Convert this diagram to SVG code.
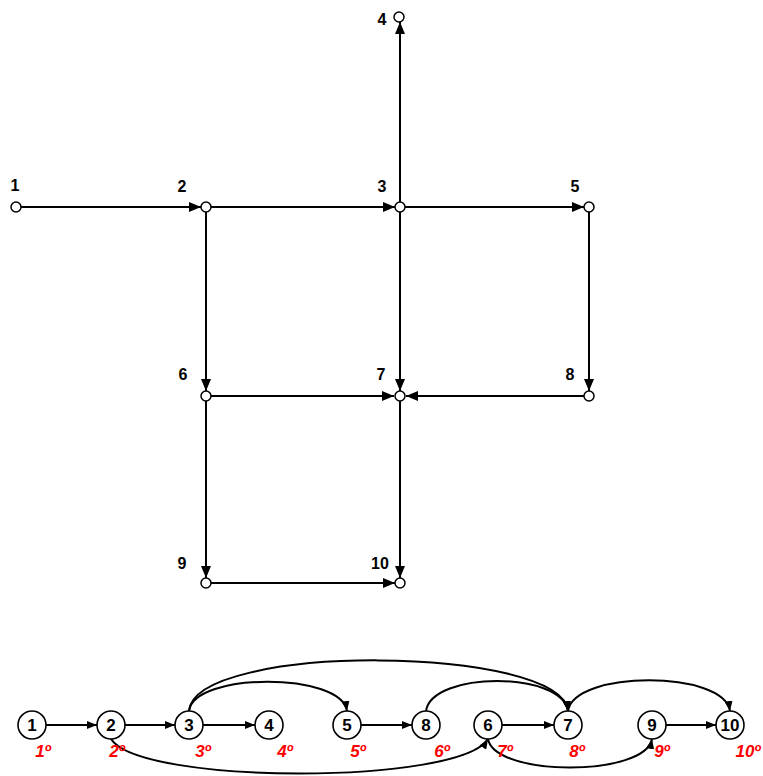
<svg xmlns="http://www.w3.org/2000/svg" width="763" height="776" viewBox="0 0 763 776">
  <style>
    .edge { fill: none; stroke: #000; stroke-width: 2; }
    .pt { fill: #fff; stroke: #000; stroke-width: 1.5; }
    .nd { fill: #fff; stroke: #000; stroke-width: 1.6; }
    .lbl { font-family: "Liberation Sans", Arial, sans-serif; font-size: 16px; font-weight: bold; fill: #000; text-anchor: middle; }
    .num { font-family: "Liberation Sans", Arial, sans-serif; font-size: 17px; font-weight: bold; fill: #000; text-anchor: middle; }
    .ord { font-family: "Liberation Sans", Arial, sans-serif; font-size: 17px; font-weight: bold; font-style: italic; fill: #ff0000; text-anchor: middle; }
  </style>
  <defs>
    <marker id="arrowBig" viewBox="0 0 12 10" refX="12" refY="5" markerWidth="12" markerHeight="10" markerUnits="userSpaceOnUse" orient="auto">
      <path d="M0,0 L12,5 L0,10 Z" fill="#000"/>
    </marker>
    <marker id="arrowSmall" viewBox="0 0 10 8" refX="10" refY="4" markerWidth="10" markerHeight="8" markerUnits="userSpaceOnUse" orient="auto">
      <path d="M0,0 L10,4 L0,8 Z" fill="#000"/>
    </marker>
  </defs>

  <!-- Network: connectors -->
  <g id="net-edges" class="edge" marker-end="url(#arrowBig)">
    <line x1="21" y1="207" x2="201" y2="207"/>
    <line x1="211" y1="207" x2="395" y2="207"/>
    <line x1="400" y1="202" x2="400" y2="22"/>
    <line x1="405" y1="207" x2="584" y2="207"/>
    <line x1="206" y1="212" x2="206" y2="391"/>
    <line x1="400" y1="212" x2="400" y2="391"/>
    <line x1="589" y1="212" x2="589" y2="391"/>
    <line x1="211" y1="396" x2="394" y2="396"/>
    <line x1="584" y1="396" x2="406" y2="396"/>
    <line x1="206" y1="401" x2="206" y2="578"/>
    <line x1="400" y1="401" x2="400" y2="578"/>
    <line x1="211" y1="583" x2="395" y2="583"/>
  </g>

  <!-- Network: nodes -->
  <g id="n1"><circle class="pt" cx="16" cy="207" r="5"/><text class="lbl" x="15" y="191">1</text></g>
  <g id="n2"><circle class="pt" cx="206" cy="207" r="5"/><text class="lbl" x="182" y="192">2</text></g>
  <g id="n3"><circle class="pt" cx="400" cy="207" r="5"/><text class="lbl" x="382" y="192">3</text></g>
  <g id="n4"><circle class="pt" cx="399" cy="17" r="5"/><text class="lbl" x="382" y="25">4</text></g>
  <g id="n5"><circle class="pt" cx="589" cy="207" r="5"/><text class="lbl" x="575" y="192">5</text></g>
  <g id="n6"><circle class="pt" cx="206" cy="396" r="5"/><text class="lbl" x="183" y="380">6</text></g>
  <g id="n7"><circle class="pt" cx="400" cy="396" r="5"/><text class="lbl" x="381" y="380">7</text></g>
  <g id="n8"><circle class="pt" cx="589" cy="396" r="5"/><text class="lbl" x="570" y="380">8</text></g>
  <g id="n9"><circle class="pt" cx="206" cy="583" r="5"/><text class="lbl" x="182" y="569">9</text></g>
  <g id="n10"><circle class="pt" cx="400" cy="583" r="5"/><text class="lbl" x="380" y="569">10</text></g>

  <!-- Ordering: connectors -->
  <g id="order-edges" class="edge" marker-end="url(#arrowSmall)">
    <line x1="46" y1="725" x2="97" y2="725"/>
    <line x1="125" y1="725" x2="175" y2="725"/>
    <line x1="203" y1="725" x2="255" y2="725"/>
    <line x1="361" y1="725" x2="412" y2="725"/>
    <line x1="502" y1="725" x2="554" y2="725"/>
    <line x1="666" y1="725" x2="716" y2="725"/>
    <path d="M189,711 C194,672 341,672 347,711"/>
    <path d="M189,711 C195,642 562,645 568,711"/>
    <path d="M426,711 C432,671 562,671 568,711"/>
    <path d="M568,711 C574,670 724,670 730,711"/>
    <path d="M111,739 C140,785 460,785 488,739"/>
    <path d="M488,739 C495,777 645,777 652,739"/>
  </g>

  <!-- Ordering: nodes -->
  <g id="o1"><circle class="nd" cx="32" cy="725" r="14"/><text class="num" x="32" y="731">1</text><text class="ord" x="43" y="757">1º</text></g>
  <g id="o2"><circle class="nd" cx="111" cy="725" r="14"/><text class="num" x="111" y="731">2</text><text class="ord" x="117" y="757">2º</text></g>
  <g id="o3"><circle class="nd" cx="189" cy="725" r="14"/><text class="num" x="189" y="731">3</text><text class="ord" x="203" y="757">3º</text></g>
  <g id="o4"><circle class="nd" cx="269" cy="725" r="14"/><text class="num" x="269" y="731">4</text><text class="ord" x="285" y="757">4º</text></g>
  <g id="o5"><circle class="nd" cx="347" cy="725" r="14"/><text class="num" x="347" y="731">5</text><text class="ord" x="358" y="757">5º</text></g>
  <g id="o8"><circle class="nd" cx="426" cy="725" r="14"/><text class="num" x="426" y="731">8</text><text class="ord" x="442" y="757">6º</text></g>
  <g id="o6"><circle class="nd" cx="488" cy="725" r="14"/><text class="num" x="488" y="731">6</text><text class="ord" x="505" y="757">7º</text></g>
  <g id="o7"><circle class="nd" cx="568" cy="725" r="14"/><text class="num" x="568" y="731">7</text><text class="ord" x="577" y="757">8º</text></g>
  <g id="o9"><circle class="nd" cx="652" cy="725" r="14"/><text class="num" x="652" y="731">9</text><text class="ord" x="662" y="757">9º</text></g>
  <g id="o10"><circle class="nd" cx="730" cy="725" r="14"/><text class="num" x="730" y="731">10</text><text class="ord" x="748" y="757">10º</text></g>
</svg>
